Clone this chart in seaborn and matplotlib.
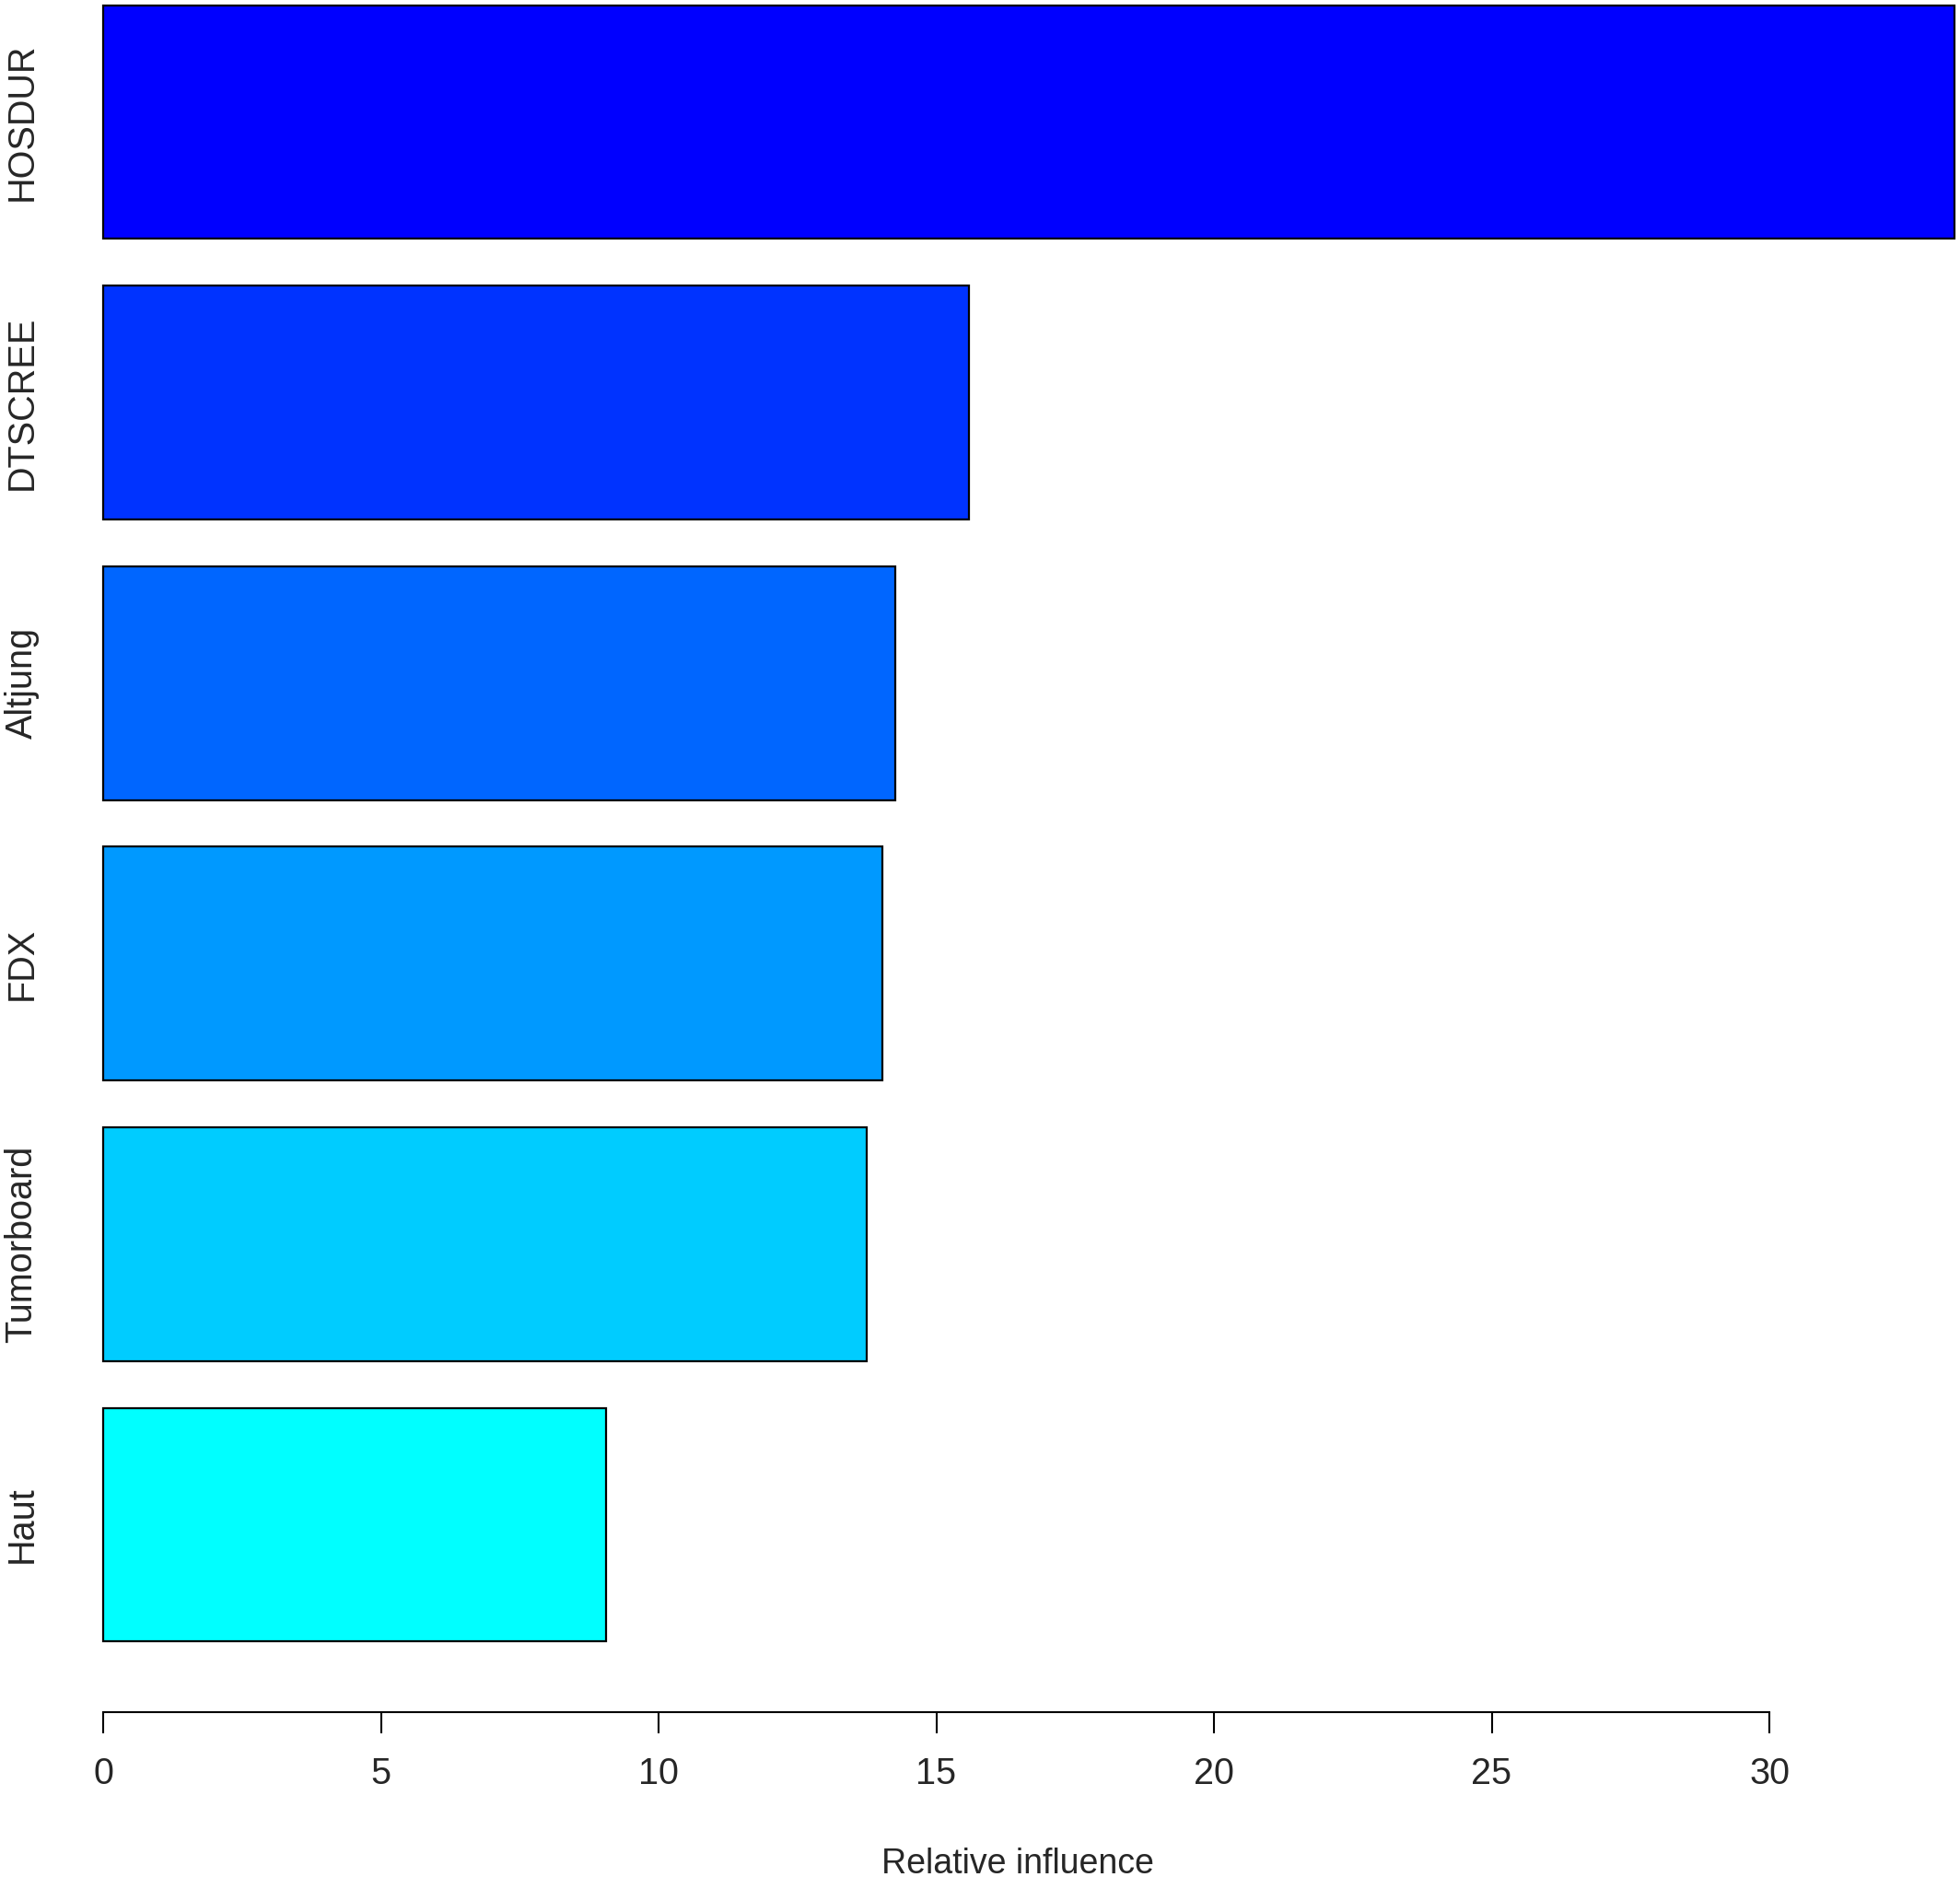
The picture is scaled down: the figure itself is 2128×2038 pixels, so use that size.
import matplotlib
matplotlib.use("Agg")
import matplotlib.pyplot as plt
import seaborn as sns
import pandas as pd

# relative influence per variable
variables = ["HOSDUR", "DTSCREE", "Altjung", "FDX", "Tumorboard", "Haut"]
influence = [33.33, 15.59, 14.26, 14.03, 13.75, 9.05]
bar_colors = ["#0000FF", "#0033FF", "#0066FF", "#0099FF", "#00CCFF", "#00FFFF"]
x_ticks = [0, 5, 10, 15, 20, 25, 30]

W, H = 2128, 2038
sns.set_style("white")
plt.rcParams["font.family"] = ["Liberation Sans", "DejaVu Sans"]

df = pd.DataFrame({"variable": variables, "influence": influence})

fig = plt.figure(figsize=(W / 100, H / 100), dpi=100)
# axes: x=0 at px 112, 60.3 px per unit; axis line at px 1859, top at 0
left, bottom_px = 112, 1859
ax = fig.add_axes([left / W, (H - bottom_px) / H, (W - left) / W, bottom_px / H])

sns.barplot(data=df, x="influence", y="variable", hue="variable", palette=bar_colors,
            legend=False, orient="h", width=0.833, edgecolor="black", linewidth=1.6,
            saturation=1, ax=ax)

for p in ax.patches:
    p.set_clip_on(False)

ax.set_xlim(0, (W - left) / 60.3)
pitch = 304.6
ax.set_ylim((bottom_px - 132.5) / pitch, -132.5 / pitch)

for s in ["top", "right", "left"]:
    ax.spines[s].set_visible(False)
ax.spines["bottom"].set_bounds(0, 30)
ax.spines["bottom"].set_linewidth(1.5)
ax.spines["bottom"].set_color("black")

ax.set_xticks(x_ticks)
ax.set_xticklabels([str(t) for t in x_ticks])
ax.tick_params(axis="x", direction="out", length=16.5, width=1.5, color="black",
               labelsize=28.5, pad=18, bottom=True)
ax.tick_params(axis="y", length=0, labelsize=28.5, pad=50)
for lab in ax.get_yticklabels():
    lab.set_rotation(90)
    lab.set_va("center")

ax.set_xlabel("Relative influence", fontsize=27, labelpad=44)
ax.xaxis.label.set_x(0.4925)
ax.set_ylabel("")

fig.savefig("out.png", dpi=100)
